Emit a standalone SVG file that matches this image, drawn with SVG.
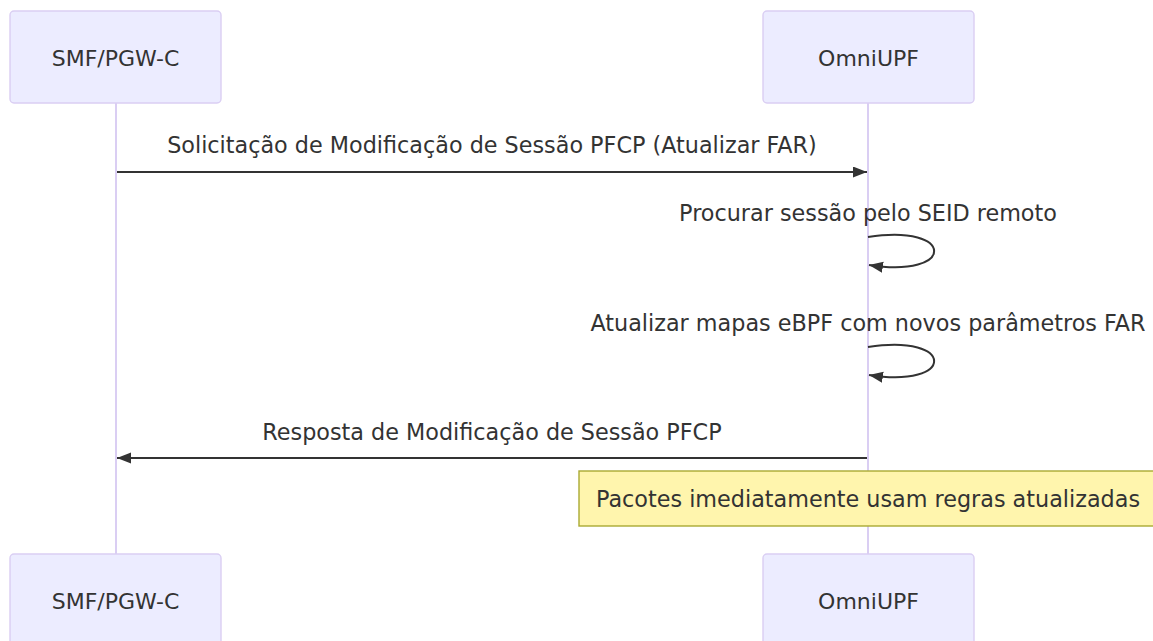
<svg xmlns="http://www.w3.org/2000/svg" width="1153" height="641" viewBox="0 0 1153 641">
<defs>
<style>
.actor{fill:#ECECFF;stroke:#DACEF3;stroke-width:1.4}
.alabel{font-family:"DejaVu Sans",Verdana,sans-serif;font-size:22px;fill:#333;text-anchor:middle;dominant-baseline:central}
.life{stroke:#DACEF3;stroke-width:2;fill:none}
.msg{stroke:#333;stroke-width:2;fill:none}
.mtext{font-family:"DejaVu Sans",Verdana,sans-serif;font-size:22.3px;fill:#333;text-anchor:middle;dominant-baseline:central}
.note{fill:#fff5ad;stroke:#aaaa33;stroke-width:1.4}
.ntext{font-family:"DejaVu Sans",Verdana,sans-serif;font-size:22.3px;fill:#333;text-anchor:middle;dominant-baseline:central}
</style>
<marker id="arrow" markerUnits="userSpaceOnUse" markerWidth="16" markerHeight="13" refX="14" refY="5.5" orient="auto">
<path d="M0,0 L14,5.5 L0,11 z" fill="#333"/>
</marker>
</defs>
<rect width="1153" height="641" fill="#ffffff"/>
<g id="lifelines">
<line class="life" x1="116" y1="103" x2="116" y2="554"/>
<line class="life" x1="868" y1="103" x2="868" y2="554"/>
</g>
<g id="actor-smf-top">
<rect class="actor" x="10" y="11" width="211" height="92" rx="4"/>
<text class="alabel" x="115.5" y="58">SMF/PGW-C</text>
</g>
<g id="actor-upf-top">
<rect class="actor" x="763" y="11" width="211" height="92" rx="4"/>
<text class="alabel" x="868.5" y="58">OmniUPF</text>
</g>
<g id="actor-smf-bottom">
<rect class="actor" x="10" y="554" width="211" height="92" rx="4"/>
<text class="alabel" x="115.5" y="601">SMF/PGW-C</text>
</g>
<g id="actor-upf-bottom">
<rect class="actor" x="763" y="554" width="211" height="92" rx="4"/>
<text class="alabel" x="868.5" y="601">OmniUPF</text>
</g>
<g id="connectors">
<line class="msg" x1="117" y1="172" x2="867" y2="172" marker-end="url(#arrow)"/>
<text class="mtext" x="492" y="145">Solicitação de Modificação de Sessão PFCP (Atualizar FAR)</text>
<path class="msg" d="M868,237 C956,223 956,279 869,265" marker-end="url(#arrow)"/>
<text class="mtext" x="868" y="213">Procurar sessão pelo SEID remoto</text>
<path class="msg" d="M868,347 C956,333 956,389 869,375" marker-end="url(#arrow)"/>
<text class="mtext" x="868" y="323">Atualizar mapas eBPF com novos parâmetros FAR</text>
<line class="msg" x1="867" y1="458" x2="117" y2="458" marker-end="url(#arrow)"/>
<text class="mtext" x="492" y="432">Resposta de Modificação de Sessão PFCP</text>
</g>
<g id="note">
<rect class="note" x="579" y="471" width="578" height="55"/>
<text class="ntext" x="868" y="499">Pacotes imediatamente usam regras atualizadas</text>
</g>
</svg>
